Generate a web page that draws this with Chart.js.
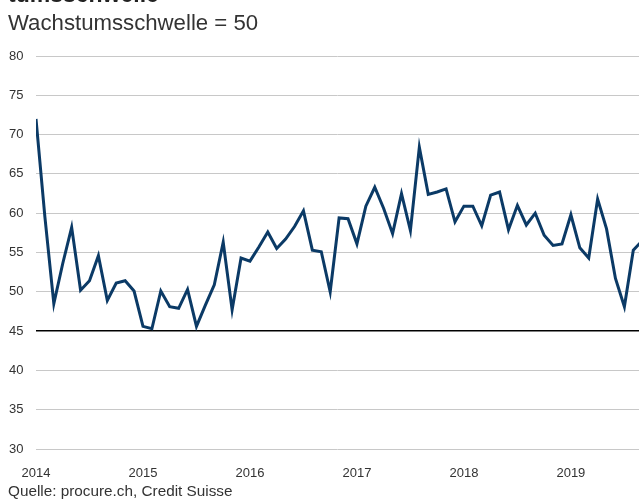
<!DOCTYPE html>
<html>
<head>
<meta charset="utf-8">
<script src="https://cdn.jsdelivr.net/npm/chart.js@4/dist/chart.umd.min.js"></script>
<style>
  html, body { margin: 0; padding: 0; background: #fff; }
  #wrap { position: relative; width: 639px; height: 499px; overflow: hidden; font-family: "Liberation Sans", Arial, sans-serif; color: #222; }
  #title { position: absolute; left: 8px; top: -19px; font-size: 23px; font-weight: bold; margin: 0; line-height: 26px; }
  #subtitle { position: absolute; left: 8px; top: 9px; font-size: 22.2px; line-height: 28px; color: #333; }
  #source { position: absolute; left: 8px; top: 481px; font-size: 15.3px; line-height: 20px; color: #333; }
  #chartBox { position: absolute; left: 0; top: 0; width: 639px; height: 499px; }
</style>
</head>
<body>
<div id="wrap">
  <div id="chartBox"><canvas id="c"></canvas></div>
  <div id="title">tumsschwelle</div>
  <div id="subtitle">Wachstumsschwelle = 50</div>
  <div id="source">Quelle: procure.ch, Credit Suisse</div>
</div>
<script>
// Einkaufsmanagerindex Schweiz, monatlich ab Jan 2014
const YEARS = ['2014', '2015', '2016', '2017', '2018', '2019'];
const Y_TICKS = [30, 35, 40, 45, 50, 55, 60, 65, 70, 75, 80];
const PMI = [
    72.0, 59.5, 48.5, 53.6, 58.2, 50.2, 51.4, 54.6, 48.9, 51.1, 51.4, 50.1,
    45.6, 45.3, 50.1, 48.1, 47.9, 50.3, 45.6, 48.3, 50.9, 56.3, 47.7, 54.3,
    53.9, 55.7, 57.6, 55.5, 56.7, 58.3, 60.3, 55.3, 55.1, 50.0, 59.4, 59.3,
    56.1, 60.9, 63.3, 60.6, 57.4, 62.5, 57.8, 68.4, 62.4, 62.7, 63.1, 58.9,
    60.9, 60.9, 58.4, 62.3, 62.7, 57.9, 61.0, 58.5, 60.0, 57.2, 55.9, 56.1,
    59.8, 55.6, 54.3, 61.8, 58.0, 51.7, 48.1, 55.3, 56.5
];
const THRESHOLD_LINE = 45;
const X_MAX = 67.64; // sichtbarer Ausschnitt endet kurz vor Sep 2019

const ctx = document.getElementById('c').getContext('2d');
new Chart(ctx, {
    type: 'line',
    data: {
        datasets: [{
            data: PMI.map((v, i) => ({ x: i, y: v })),
            borderColor: '#0b3a66',
            borderWidth: 3,
            pointRadius: 0,
            tension: 0,
            fill: false
        }]
    },
    options: {
        responsive: true,
        maintainAspectRatio: false,
        animation: false,
        layout: { padding: { top: 56, left: 9, right: 0, bottom: 0 } },
        plugins: { legend: { display: false }, tooltip: { enabled: false } },
        scales: {
            x: {
                type: 'linear',
                min: 0,
                max: X_MAX,
                afterBuildTicks: s => { s.ticks = YEARS.map((y, i) => ({ value: i * 12 })); },
                afterFit: s => { s.height = 50; },
                grid: { display: false },
                border: { display: false },
                ticks: {
                    callback: v => YEARS[v / 12],
                    font: { family: 'Liberation Sans', size: 13 },
                    color: '#333',
                    maxRotation: 0,
                    padding: 9,
                    autoSkip: false
                }
            },
            y: {
                min: 30,
                max: 80,
                afterBuildTicks: s => { s.ticks = Y_TICKS.map(v => ({ value: v })); },
                afterFit: s => { s.width = 27; },
                border: { display: false },
                grid: {
                    drawTicks: false,
                    color: c => c.tick && c.tick.value === THRESHOLD_LINE ? '#000' : '#c8c8c8',
                    lineWidth: c => c.tick && c.tick.value === THRESHOLD_LINE ? 1.5 : 1
                },
                ticks: {
                    crossAlign: 'far',
                    padding: 0,
                    font: { family: 'Liberation Sans', size: 13 },
                    color: '#333'
                }
            }
        }
    }
});
</script>
</body>
</html>
